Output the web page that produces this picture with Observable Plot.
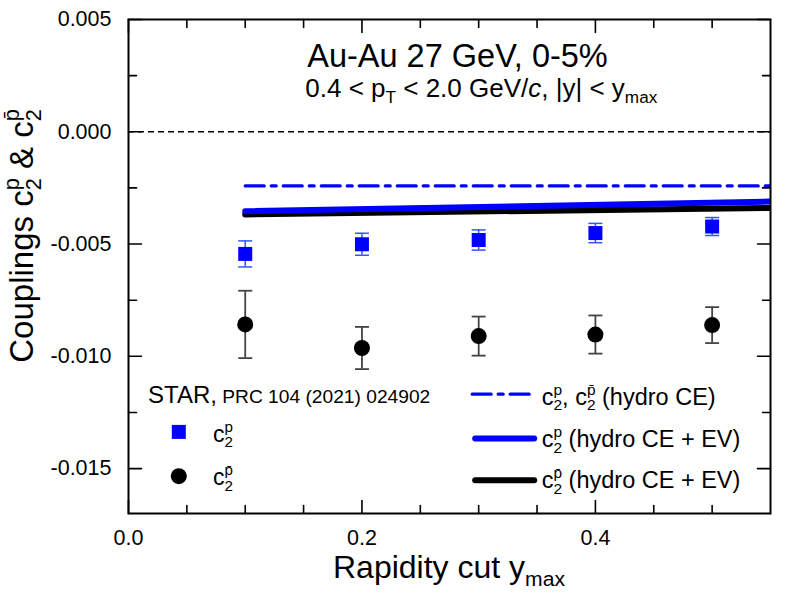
<!DOCTYPE html>
<html>
<head>
<meta charset="utf-8">
<script src="https://cdn.jsdelivr.net/npm/d3@7"></script>
<script src="https://cdn.jsdelivr.net/npm/@observablehq/plot@0.6"></script>
<style>
  html, body { margin: 0; padding: 0; background: white; }
</style>
</head>
<body>
<script>
// ---------- data ----------
const xCut = [0.1, 0.2, 0.3, 0.4, 0.5];
const c2p = [-0.00544, -0.00501, -0.00482, -0.00451, -0.00422];
const c2pErr = [0.00058, 0.00049, 0.00045, 0.00043, 0.00040];
const c2pbar = [-0.00858, -0.00963, -0.00910, -0.00903, -0.00861];
const c2pbarErr = [0.00150, 0.00094, 0.00087, 0.00085, 0.00080];
const hydroX = [0.1, 0.55];
const hydroCE = [-0.00241, -0.00241];
const hydroEVp = [-0.00354, -0.00311];
const hydroEVpbar = [-0.00368, -0.00339];
const xTickLabels = [0, 0.2, 0.4];
const xMinorTicks = [0.05, 0.1, 0.15, 0.25, 0.3, 0.35, 0.45, 0.5];
const yTickLabels = [-0.015, -0.010, -0.005, 0.000, 0.005];
const yMinorTicks = [-0.0125, -0.0075, -0.0025, 0.0025];

const FONT = '"Liberation Sans", Arial, Helvetica, sans-serif';
const BLUE = "#0000ff";

const ptsP = xCut.map((x, i) => ({x, y: c2p[i], e: c2pErr[i]}));
const ptsPbar = xCut.map((x, i) => ({x, y: c2pbar[i], e: c2pbarErr[i]}));
const lineCE = hydroX.map((x, i) => ({x, y: hydroCE[i]}));
const lineP = hydroX.map((x, i) => ({x, y: hydroEVp[i]}));
const linePbar = hydroX.map((x, i) => ({x, y: hydroEVpbar[i]}));

const stick = {draw(ctx, l) { ctx.moveTo(0, 0); ctx.lineTo(0, -l); }};
const hbar = {draw(ctx, size) { const w = Math.sqrt(size); ctx.moveTo(-w / 2, 0); ctx.lineTo(w / 2, 0); }};

function ticks(data, side, len) {
  const rot = {bottom: 0, top: 180, left: 90, right: -90}[side];
  const ch = (side === "bottom" || side === "top") ? {x: d => d} : {y: d => d};
  return Plot.vector(data, {...ch, frameAnchor: side, length: len, rotate: rot, anchor: "start",
    shape: stick, stroke: "black", strokeWidth: 1.6});
}

const plot = Plot.plot({
  width: 789,
  height: 592,
  marginLeft: 128,
  marginRight: 19,
  marginTop: 19,
  marginBottom: 79,
  style: {fontFamily: FONT, background: "white", color: "black", overflow: "visible"},
  x: {domain: [0, 0.55], label: null},
  y: {domain: [-0.017, 0.005], label: null},
  marks: [
    Plot.ruleY([0], {stroke: "black", strokeWidth: 1.3, strokeDasharray: "6,4"}),
    // hydro curves
    Plot.line(lineCE, {x: "x", y: "y", stroke: BLUE, strokeWidth: 3.2, strokeDasharray: "19,7,5,7", clip: true}),
    Plot.line(linePbar, {x: "x", y: "y", stroke: "black", strokeWidth: 6, strokeLinecap: "round", clip: true}),
    Plot.line(lineP, {x: "x", y: "y", stroke: BLUE, strokeWidth: 6, strokeLinecap: "round", clip: true}),
    // error bars
    Plot.ruleX(ptsP, {x: "x", y1: d => d.y - d.e, y2: d => d.y + d.e, stroke: "#3355ff", strokeWidth: 1.5}),
    Plot.dot(ptsP, {x: "x", y: d => d.y - d.e, symbol: hbar, r: 7.9, stroke: "#3355ff", strokeWidth: 1.5}),
    Plot.dot(ptsP, {x: "x", y: d => d.y + d.e, symbol: hbar, r: 7.9, stroke: "#3355ff", strokeWidth: 1.5}),
    Plot.ruleX(ptsPbar, {x: "x", y1: d => d.y - d.e, y2: d => d.y + d.e, stroke: "#444", strokeWidth: 1.8}),
    Plot.dot(ptsPbar, {x: "x", y: d => d.y - d.e, symbol: hbar, r: 7.9, stroke: "#444", strokeWidth: 1.8}),
    Plot.dot(ptsPbar, {x: "x", y: d => d.y + d.e, symbol: hbar, r: 7.9, stroke: "#444", strokeWidth: 1.8}),
    // points
    Plot.dot(ptsP, {x: "x", y: "y", symbol: "square", r: 7.9, fill: BLUE, stroke: null}),
    Plot.dot(ptsPbar, {x: "x", y: "y", symbol: "circle", r: 8, fill: "black", stroke: null}),
    // legend swatches
    Plot.dot([0], {frameAnchor: "top-left", dx: 50.3, dy: 412.4, symbol: "square", r: 7.9, fill: BLUE, stroke: null}),
    Plot.dot([0], {frameAnchor: "top-left", dx: 50.3, dy: 456.7, symbol: "circle", r: 8, fill: "black", stroke: null}),
    Plot.vector([0], {frameAnchor: "top-left", dx: 343.7, dy: 374.7, length: 57, rotate: 90, anchor: "start",
      shape: stick, stroke: BLUE, strokeWidth: 3.2, strokeDasharray: "19,7,5,7"}),
    Plot.vector([0], {frameAnchor: "top-left", dx: 346.7, dy: 419, length: 59, rotate: 90, anchor: "start",
      shape: stick, stroke: BLUE, strokeWidth: 6, strokeLinecap: "round"}),
    Plot.vector([0], {frameAnchor: "top-left", dx: 346.7, dy: 460.7, length: 59, rotate: 90, anchor: "start",
      shape: stick, stroke: "black", strokeWidth: 6, strokeLinecap: "round"}),
    // axes
    Plot.axisX(xTickLabels, {tickSize: 0, tickPadding: 16, tickFormat: d => d.toFixed(1), fontSize: 21.5, label: null}),
    Plot.axisY(yTickLabels, {tickSize: 0, tickPadding: 17, tickFormat: d => d.toFixed(3), fontSize: 21.5, label: null}),
    ticks(xTickLabels, "bottom", 13), ticks(xTickLabels, "top", 13),
    ticks(xMinorTicks, "bottom", 8), ticks(xMinorTicks, "top", 8),
    ticks(yTickLabels, "left", 13), ticks(yTickLabels, "right", 13),
    ticks(yMinorTicks, "left", 8), ticks(yMinorTicks, "right", 8),
    Plot.frame({stroke: "black", strokeWidth: 2})
  ]
});
document.body.appendChild(plot);

// ---------- rich text (sub/superscripts) ----------
function rich({x, y, size, anchor = "start", rotate = 0, parts}) {
  const g = d3.select(plot).append("g").attr("transform", `translate(${x},${y}) rotate(${rotate})`);
  const t = g.append("text").attr("font-size", size).attr("fill", "black")
    .attr("font-family", FONT).attr("text-anchor", "start");
  let off = 0, pendDx = 0;
  for (const p of parts) {
    const q = typeof p === "string" ? {t: p} : p;
    if (q.t !== undefined) {
      const s = t.append("tspan").text(q.t);
      if (off) s.attr("dy", -off);
      off = 0;
      if (pendDx) s.attr("dx", pendDx);
      pendDx = 0;
      if (q.size) s.attr("font-size", q.size);
      if (q.italic) s.attr("font-style", "italic");
    } else {
      const fs = size * 0.66;
      let wa = 0;
      if (q.sup) {
        const a = t.append("tspan").attr("font-size", fs).attr("dy", -size * 0.42 - off).text(q.sup);
        if (pendDx) a.attr("dx", pendDx);
        pendDx = 0;
        off = -size * 0.42;
        wa = a.node().getComputedTextLength();
      }
      if (q.sub) {
        const b = t.append("tspan").attr("font-size", fs).attr("dy", size * 0.25 - off).text(q.sub);
        if (wa) b.attr("dx", -wa);
        else if (pendDx) b.attr("dx", pendDx);
        pendDx = 0;
        off = size * 0.25;
        const wb = b.node().getComputedTextLength();
        if (wa > wb) pendDx = wa - wb;
      }
    }
  }
  if (anchor === "middle") {
    const bb = t.node().getBBox();
    t.attr("x", -(bb.x + bb.width / 2));
  }
}

rich({x: 457.5, y: 66.5, size: 32.5, anchor: "middle", parts: ["Au-Au 27 GeV, 0-5%"]});
rich({x: 481.5, y: 96.5, size: 26, anchor: "middle",
  parts: ["0.4 < p", {sub: "T"}, " < 2.0 GeV/", {t: "c", italic: true}, ", |y| < y", {sub: "max"}]});
rich({x: 33, y: 236, size: 33, anchor: "middle", rotate: -90,
  parts: ["Couplings c", {sup: "p", sub: "2"}, " & c", {sup: "p\u0304", sub: "2"}]});
rich({x: 333, y: 578, size: 32, parts: ["Rapidity cut y", {sub: "max"}]});

rich({x: 148, y: 403.3, size: 24, parts: ["STAR,", {t: " PRC 104 (2021) 024902", size: 19.2}]});
rich({x: 213, y: 441.7, size: 23, parts: ["c", {sup: "p", sub: "2"}]});
rich({x: 213, y: 485, size: 23, parts: ["c", {sup: "p\u0304", sub: "2"}]});
rich({x: 541.7, y: 404.5, size: 23.5, parts: ["c", {sup: "p", sub: "2"}, ", c", {sup: "p\u0304", sub: "2"}, " (hydro CE)"]});
rich({x: 541.7, y: 446.7, size: 23.5, parts: ["c", {sup: "p", sub: "2"}, " (hydro CE + EV)"]});
rich({x: 541.7, y: 488.3, size: 23.5, parts: ["c", {sup: "p\u0304", sub: "2"}, " (hydro CE + EV)"]});
</script>
</body>
</html>
